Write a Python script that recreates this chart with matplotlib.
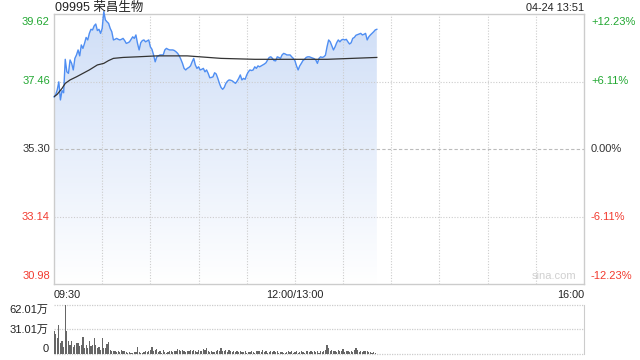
import matplotlib
matplotlib.use("Agg")
import matplotlib.pyplot as plt
import numpy as np
from matplotlib.colors import LinearSegmentedColormap
from matplotlib.patches import Polygon

# --- data (minutes since 09:30) ---
title = "09995 荣昌生物"
stamp = "04-24 13:51"

price = [
    36.97, 37.03, 37.19, 37.45, 36.87, 37.17, 37.10, 38.17, 37.77, 37.72,
    38.15, 38.04, 37.83, 38.20, 38.31, 38.47, 38.28, 38.63, 38.52, 38.68,
    38.87, 38.79, 39.00, 39.13, 39.11, 39.24, 39.30, 39.09, 39.13, 39.00,
    39.16, 39.70, 39.43, 39.37, 39.32, 39.16, 39.05, 38.79, 38.81, 38.84,
    38.81, 38.79, 38.81, 38.84, 38.77, 38.68, 38.70, 38.73, 38.81, 38.89,
    38.84, 38.95, 38.68, 38.47, 38.70, 38.77, 38.79, 38.73, 38.76, 38.79,
    38.57, 38.49, 38.31, 38.09, 38.25, 38.28, 38.31, 38.31, 38.31, 38.47,
    38.52, 38.49, 38.47, 38.47, 38.47, 38.45, 38.41, 38.36, 38.28, 38.17,
    38.04, 37.88, 37.83, 37.88, 37.91, 37.96, 38.09, 38.20, 37.99, 37.88,
    37.93, 37.83, 37.85, 37.88, 37.77, 37.83, 37.72, 37.58, 37.59, 37.61,
    37.74, 37.70, 37.56, 37.40, 37.27, 37.21, 37.27, 37.40, 37.47, 37.51,
    37.50, 37.48, 37.44, 37.40, 37.47, 37.56, 37.67, 37.51, 37.56, 37.53,
    37.67, 37.77, 37.83, 37.81, 37.83, 37.93, 37.88, 37.96, 37.93, 37.96,
    37.99, 38.02, 38.06, 38.15, 38.23, 38.25, 38.20, 38.13, 38.12, 38.25,
    38.23, 38.20, 38.31, 38.36, 38.34, 38.31, 38.31, 38.31, 38.25, 38.20,
    38.13, 37.96, 37.83, 37.96, 38.04, 38.13, 38.17, 38.23, 38.25, 38.25,
    38.23, 38.21, 38.19, 38.15, 38.04, 38.20, 38.25, 38.23, 38.25, 38.30,
    38.57, 38.79, 38.73, 38.60, 38.47, 38.57, 38.70, 38.79, 38.73, 38.79,
    38.81, 38.79, 38.81, 38.73, 38.66, 38.70, 38.84, 38.87, 38.94, 38.96,
    38.98, 39.00, 38.95, 38.97, 39.00, 38.79, 38.89, 38.95, 39.00, 39.05,
    39.11, 39.13,
]

avg_t = [0, 2, 5, 7, 10, 14, 18, 22, 27, 31, 34, 37, 43, 52, 64, 83, 104, 125, 170, 201]
avg_p = [36.97, 37.05, 37.24, 37.40, 37.51, 37.61, 37.72, 37.83, 37.99, 38.04,
         38.13, 38.20, 38.23, 38.25, 38.28, 38.28, 38.20, 38.17, 38.17, 38.23]

# volume in 万 shares per minute
volume = [
    28.5, 25, 20, 37, 14, 17, 9, 62, 28.5, 17,
    11, 16, 9, 11, 14, 14, 10, 12, 21, 8,
    12, 8, 17, 10, 12, 20, 12, 8, 8.5, 5.5,
    20, 8, 7, 13, 15, 5.5, 4, 4.2, 3.4, 2.5,
    4.2, 2.5, 5.0, 4.2, 3.4, 2.5, 0.8, 2.5, 1.3, 1.3,
    2.5, 2.1, 8.4, 2.5, 1.3, 1.3, 2.5, 3.4, 2.5, 4.2,
    5.4, 8.4, 4.2, 5.4, 6.7, 2.5, 4.2, 1.3, 5.4, 2.5,
    1.3, 2.5, 3.4, 4.2, 2.5, 4.2, 4.2, 6.3, 5.4, 3.4,
    5.4, 3.4, 2.5, 4.2, 3.4, 5.4, 3.4, 5.4, 3.4, 2.5,
    5.4, 3.4, 4.2, 6.7, 5.4, 7.5, 3.4, 2.5, 4.2, 3.0,
    2.5, 3.4, 5.4, 3.4, 7.5, 3.4, 4.2, 5.4, 2.5, 5.4,
    4.2, 2.5, 4.2, 2.1, 3.4, 2.5, 3.4, 2.5, 2.5, 3.4,
    1.3, 2.5, 2.5, 3.4, 2.1, 1.3, 4.2, 3.4, 4.2, 2.5,
    5.4, 2.5, 3.4, 1.3, 2.5, 3.4, 2.5, 4.2, 2.5, 3.4,
    1.3, 2.5, 2.5, 1.3, 1.3, 2.5, 3.4, 2.5, 3.4, 1.3,
    2.5, 4.2, 1.3, 2.5, 3.4, 2.5, 1.3, 3.4, 4.2, 2.5,
    3.4, 2.5, 3.4, 2.5, 4.2, 1.3, 3.4, 2.5, 4.2, 5.4,
    11.7, 7.5, 4.2, 5.4, 3.4, 4.2, 2.5, 5.4, 3.4, 4.2,
    6.7, 2.5, 4.2, 3.4, 2.5, 4.2, 2.5, 5.4, 7.5, 5.4,
    2.5, 3.4, 2.5, 4.2, 3.4, 3.4, 2.5, 2.5, 1.3, 2.5,
    1.3, 0.5,
]

price_ticks = [30.98, 33.14, 35.30, 37.46, 39.62]
pct_labels = ["-12.23%", "-6.11%", "0.00%", "+6.11%", "+12.23%"]
tick_colors = ["#f23a2f", "#f23a2f", "#333333", "#22a832", "#22a832"]
vol_ticks = [0, 31.01, 62.01]
vol_labels = ["0", "31.01万", "62.01万"]
time_labels = ["09:30", "12:00/13:00", "16:00"]
time_pos = [0, 150, 330]

FONT = ["Liberation Sans", "Noto Sans CJK SC", "DejaVu Sans"]
plt.rcParams["font.family"] = FONT
GRID = "#cccccc"

W, H = 640, 360
fig = plt.figure(figsize=(W / 100, H / 100), dpi=100)


def px_axes(x0, y0, x1, y1):
    return fig.add_axes([x0 / W, 1 - y1 / H, (x1 - x0) / W, (y1 - y0) / H])


ax = px_axes(54, 14, 584, 284)
vax = px_axes(54, 305, 584, 354)

t = np.arange(len(price))
ymin, ymax = price_ticks[0], price_ticks[-1]
ax.set_xlim(0, 330)
ax.set_ylim(ymin, ymax)

# gradient fill under price
poly = Polygon(np.column_stack([np.r_[t[0], t, t[-1]], np.r_[ymin, price, ymin]]),
               closed=True, facecolor="none", edgecolor="none")
ax.add_patch(poly)
cmap = LinearSegmentedColormap.from_list("fill", ["#ffffff", "#cfdef7"])
grad = np.linspace(0, 1, 256).reshape(-1, 1)
im = ax.imshow(grad, cmap=cmap, aspect="auto", origin="lower",
               extent=[t[0], t[-1], ymin, ymax], zorder=1)
im.set_clip_path(poly)

ax.plot(t, price, color="#4f8ef2", lw=1.0, zorder=3, clip_on=False)
ax.plot(avg_t, avg_p, color="#333333", lw=0.9, zorder=4)

# grid
for m in range(30, 330, 30):
    ax.axvline(m, color=GRID, lw=0.8, ls=(0, (1, 1.5)), zorder=2)
for v in price_ticks[1:-1]:
    if v == 35.30:
        ax.axhline(v, color="#bbbbbb", lw=0.8, ls=(0, (3, 2)), zorder=2)
    else:
        ax.axhline(v, color=GRID, lw=0.8, ls=(0, (1, 1.5)), zorder=2)

ax.set_xticks([])
ax.set_yticks([])
for s in ax.spines.values():
    s.set_color(GRID)
    s.set_linewidth(1.0)

# price/percent labels
for i, (v, lab, c) in enumerate(zip(price_ticks, pct_labels, tick_colors)):
    va = "bottom" if i == 0 else ("top" if i == len(price_ticks) - 1 else "center")
    off = 2 if i == 0 else (-2 if i == len(price_ticks) - 1 else 0)
    ax.annotate(f"{v:.2f}", (0, v), xycoords=("axes fraction", "data"),
                xytext=(-3, off), textcoords="offset points",
                ha="right", va=va, color=c, fontsize=8)
    ax.annotate(lab, (1, v), xycoords=("axes fraction", "data"),
                xytext=(5, off), textcoords="offset points",
                ha="left", va=va, color=c, fontsize=8)

# time labels
for pos, lab, ha in zip(time_pos, time_labels, ["left", "center", "right"]):
    ax.annotate(lab, (pos, 0), xycoords=("data", "axes fraction"),
                xytext=(0, -4), textcoords="offset points",
                ha=ha, va="top", color="#222222", fontsize=7.8)

fig.text(55 / W, 1 - 8 / H, title, ha="left", va="center",
         fontsize=9, color="#222222")
fig.text(584 / W, 1 - 8 / H, stamp, ha="right", va="center",
         fontsize=7.8, color="#222222")
ax.text(0.985, 0.012, "sina.com", transform=ax.transAxes, ha="right", va="bottom",
        fontsize=8, color="#d0d0d0")

# volume
vt = np.arange(len(volume))
vax.bar(vt, volume, width=0.75, color="#666666", linewidth=0)
vax.set_xlim(0, 330)
vax.set_ylim(0, vol_ticks[-1])
vax.set_xticks([])
vax.set_yticks([])
for v in vol_ticks:
    vax.axhline(v, color=GRID, lw=0.9, ls=(0, (1, 1)), zorder=0, clip_on=False)
for k in ("top", "bottom", "left"):
    vax.spines[k].set_visible(False)
vax.spines["right"].set_color(GRID)
for i, (v, lab) in enumerate(zip(vol_ticks, vol_labels)):
    va = "bottom" if i == 0 else ("top" if i == len(vol_ticks) - 1 else "center")
    vax.annotate(lab, (0, v), xycoords=("axes fraction", "data"),
                 xytext=(-4, 0), textcoords="offset points",
                 ha="right", va=va, color="#222222", fontsize=8)

fig.savefig("out.png", dpi=100)
